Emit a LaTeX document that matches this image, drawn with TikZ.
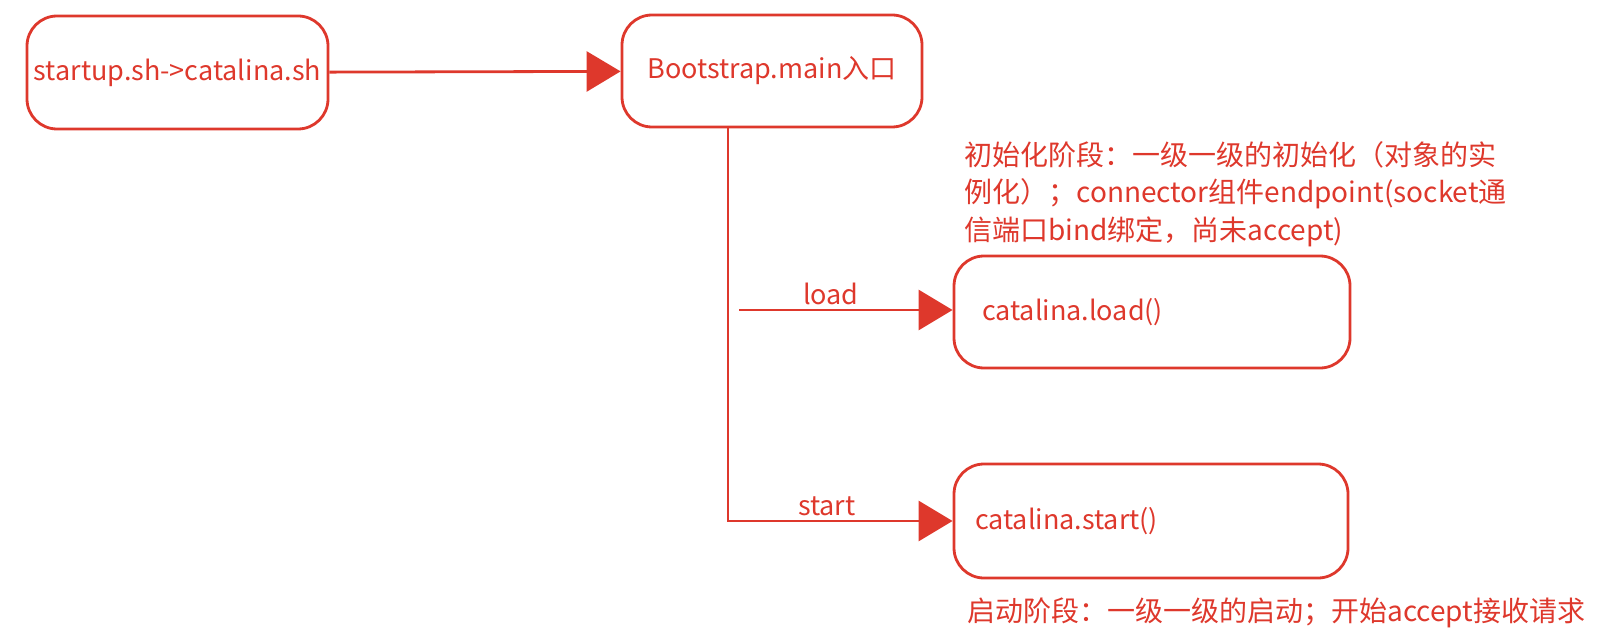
\documentclass[tikz,border=0pt]{standalone}
\usepackage{fontspec}
\setmainfont{Noto Sans CJK SC}
\usetikzlibrary{arrows.meta,calc,positioning}
\definecolor{flowred}{RGB}{222,56,44}
\begin{document}
\begin{tikzpicture}[x=1pt,y=-1pt,line width=2.8pt,draw=flowred,text=flowred,
  font=\fontsize{27}{36}\selectfont,
  procbox/.style={draw,rounded corners=30pt,minimum height=113pt,inner sep=0pt},
  notetext/.style={inner sep=0pt,font=\fontsize{28}{37.5}\selectfont},
  flowarrow/.style={-{Triangle[length=34pt,width=40pt]}}]
\useasboundingbox (0,0) rectangle (1616,631);
\node [procbox,minimum width=301pt] (Startup) at (177.5,72.5) {startup.sh->catalina.sh};
\node [procbox,minimum width=300pt,minimum height=112pt] (Bootstrap) at (772,71) {Bootstrap.main入口};
\node [procbox,minimum width=396pt,minimum height=112pt,text width=340pt,align=left] (CatalinaLoad) at (1152,312) {catalina.load()};
\node [procbox,minimum width=394pt,minimum height=114pt,text width=352pt,align=left] (CatalinaStart) at (1151,521) {catalina.start()};
\node [notetext,anchor=north west,align=left] (LoadNote) at (963,140) {初始化阶段：一级一级的初始化（对象的实\\例化）；connector组件endpoint(socket通\\信端口bind绑定，尚未accept)};
\node [notetext,anchor=west] (StartNote) at (966,613) {启动阶段：一级一级的启动；开始accept接收请求};
\coordinate (TrunkTop) at ($(Bootstrap.south)+(-44,0)$);
\coordinate (LoadTail) at (739,310);
\draw [flowarrow] (Startup) -- (Bootstrap);
\draw [flowarrow] (LoadTail) -- node [above,pos=0.43] {load} (LoadTail -| CatalinaLoad.west);
\draw [flowarrow] (TrunkTop) |- node [pos=0.72,above] {start} (CatalinaStart.west);
\end{tikzpicture}
\end{document}
